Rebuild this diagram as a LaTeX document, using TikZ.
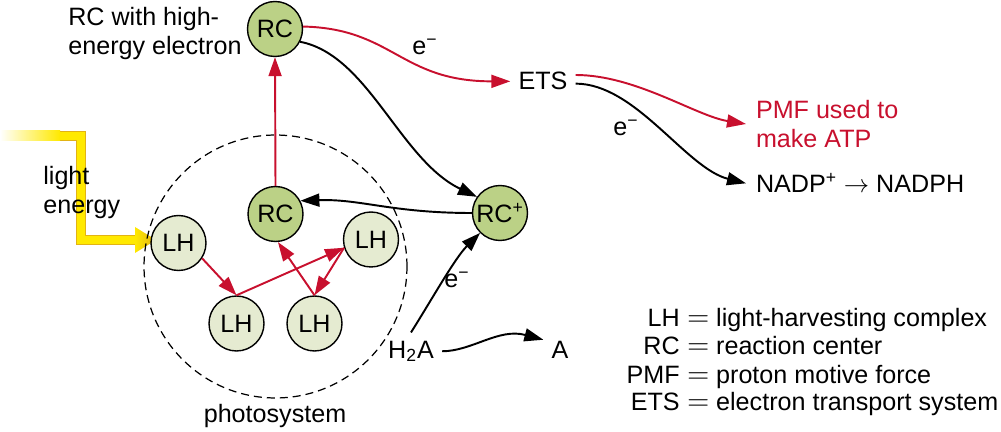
\documentclass[tikz,border=0pt]{standalone}
\usepackage{fontspec}
\setmainfont{Liberation Sans}
\usetikzlibrary{arrows.meta}
\definecolor{lhgreen}{HTML}{E5EBD1}
\definecolor{rcgreen}{HTML}{BBD186}
\definecolor{ered}{HTML}{C8102E}
\definecolor{sunyellow}{HTML}{FFE900}
\definecolor{sungold}{HTML}{E2B314}
\newcommand{\eqsign}{{\fontsize{17.5}{17.5}\selectfont$=$}}
\newcommand{\elec}{e\textsuperscript{−}}

\begin{document}
\begin{tikzpicture}[x=0.02cm,y=-0.02cm,font=\fontsize{14.3}{16.2}\selectfont]
        \tikzstyle{every node}+=[inner sep=0pt]
        \tikzstyle{lh}=[circle,draw=black,line width=0.8pt,fill=lhgreen,minimum size=1.1cm]
        \tikzstyle{rc}=[circle,draw=black,line width=0.8pt,fill=rcgreen,minimum size=1.1cm]
        \tikzstyle{redflow}=[draw=ered,line width=1.1pt,-{Triangle[length=0.38cm,width=0.26cm]}]
        \tikzstyle{eflow}=[draw=black,line width=1.1pt,-{Triangle[length=0.38cm,width=0.26cm]}]
        \tikzstyle{term}=[inner sep=4.5pt]
        \useasboundingbox (0,0) rectangle (1001,432);
        \coordinate (sun) at (0,136);
        \coordinate (bend) at (81,240);
        \coordinate (beamend) at (137,240);
        \coordinate (lighttip) at (156,240);
        \draw [sungold,line width=0.2cm,line join=miter] (sun) -| (bend) -- (beamend);
        \draw [sunyellow,line width=0.16cm,line join=miter] (sun) -| (bend) -- (beamend);
        \shade [left color=white,right color=sunyellow] (0,131) rectangle (60,141);
        \shade [left color=sunyellow,right color=sungold] (135,227) -- (lighttip) -- (135,253) -- cycle;
        \node [circle,draw=black,line width=0.7pt,dash pattern=on 0.16cm off 0.1cm,minimum size=5.26cm] (psys) at (275.5,266.5) {};
        \node [anchor=base] (pslabel) at (275,422) {photosystem};
        \node [lh] (lhA) at (178.5,243) {LH};
        \node [lh] (lhB) at (236.5,323.5) {LH};
        \node [lh] (lhC) at (314.5,323.5) {LH};
        \node [lh] (lhD) at (371,239.5) {LH};
        \node [rc] (rcIn) at (275.5,214) {RC};
        \node [rc] (rcTop) at (275,29) {RC};
        \node [rc] (rcPlus) at (500,213) {RC\textsuperscript{+}};
        \node [anchor=west,align=left] (rclabel) at (68,33.5) {RC with high-\\energy electron};
        \node [anchor=west,align=left] (lightlabel) at (43,192.5) {light\\energy};
        \node [term,anchor=base] (ets) at (543,90) {ETS};
        \node [term,anchor=base] (h2a) at (411,358) {H\textsubscript{2}A};
        \node [term,anchor=base] (prodA) at (560,358) {A};
        \node [anchor=west,align=left,text=ered,inner sep=5.5pt] (pmf) at (746,124) {PMF used to\\make ATP};
        \node [anchor=base west,inner sep=5.5pt] (nadp) at (746,193) {NADP\textsuperscript{+} $\rightarrow$ NADPH};
        \node (eTop) at (425,47) {\elec};
        \node (eH2A) at (457,280) {\elec};
        \node (eETS) at (626,128) {\elec};
        \draw [redflow] (lhA.-33) -- (lhB.north);
        \draw [redflow] (lhB.north) -- (lhD.197);
        \draw [redflow] (lhD.197) -- (lhC.north);
        \draw [redflow] (lhC.north) -- (rcIn.-85);
        \draw [redflow] (rcIn.north) -- (rcTop.south);
        \draw [redflow] (rcTop.5) .. controls +(90,2) and +(-110,0) .. (ets.west);
        \draw [eflow] (rcTop.-27) .. controls +(68,13) and +(-77,-37) .. (rcPlus.145);
        \draw [eflow] (rcPlus.west) .. controls +(-80,0) and +(60,-2) .. (rcIn.28);
        \draw [eflow] (h2a.north) .. controls +(22,-35) and +(-25,25) .. (rcPlus.225);
        \draw [eflow] (h2a.east) .. controls +(30,0) and +(-45,-12) .. (prodA.150);
        \draw [redflow] (ets.11) .. controls +(60,0) and +(-50,-8) .. (pmf.west);
        \draw [eflow] (ets.-4) .. controls +(60,0) and +(-60,-15) .. (nadp.west);
        \node [anchor=base east] (lhkey) at (680,327) {LH};
        \node [anchor=base west] (lhdef) at (687,327) {\eqsign\ light-harvesting complex};
        \node [anchor=base east] (rckey) at (680,355) {RC};
        \node [anchor=base west] (rcdef) at (687,355) {\eqsign\ reaction center};
        \node [anchor=base east] (pmfkey) at (680,383) {PMF};
        \node [anchor=base west] (pmfdef) at (687,383) {\eqsign\ proton motive force};
        \node [anchor=base east] (etskey) at (680,410) {ETS};
        \node [anchor=base west] (etsdef) at (687,410) {\eqsign\ electron transport system};
\end{tikzpicture}
\end{document}
